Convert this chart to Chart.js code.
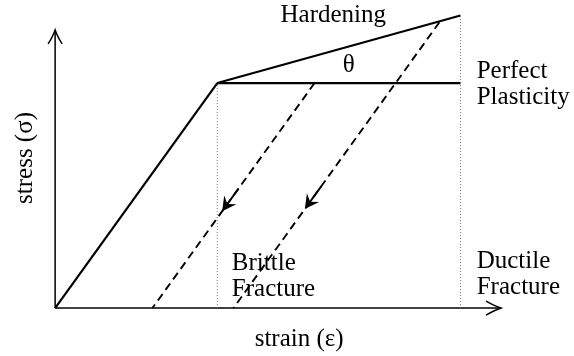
<!DOCTYPE html>
<html>
<head>
<meta charset="utf-8">
<script src="https://cdn.jsdelivr.net/npm/chart.js@4.4.1/dist/chart.umd.min.js"></script>
<style>
  html, body { margin: 0; padding: 0; background: #fff; }
  #wrap { width: 574px; height: 356px; }
</style>
</head>
<body>
<div id="wrap"><canvas id="stress-strain"></canvas></div>
<script>
// strain in units of the yield strain, stress in units of the yield stress
const elasticCurve = [[0, 0], [1, 1]];
const hardeningCurve = [[1, 1], [2.5, 1.3]];
const plasticCurve = [[1, 1], [2.5, 1]];
const brittleUnload = [[1.6, 1], [0.6, 0]];
const ductileUnload = [[2.37, 1.27], [1.1, 0]];
const brittleLimit = [[1, 0], [1, 1]];
const ductileLimit = [[2.5, 0], [2.5, 1.3]];
const strainAxis = [[0, 0], [2.75, 0]];
const stressAxis = [[0, 0], [0, 1.236]];
const unloadArrowTips = [[1.03, 0.43], [1.54, 0.44]];

const xLabel = 'strain (ε)';
const yLabel = 'stress (σ)';
const hardeningLabel = 'Hardening';
const angleLabel = 'θ';
const plasticLabel = ['Perfect', 'Plasticity'];
const brittleLabel = ['Brittle', 'Fracture'];
const ductileLabel = ['Ductile', 'Fracture'];

const toXY = (pts) => pts.map(([x, y]) => ({ x: x, y: y }));

function lineSet(pts, width, dash, color) {
  return {
    data: toXY(pts),
    showLine: true,
    borderColor: color || '#000',
    borderWidth: width,
    borderDash: dash || [],
    pointRadius: 0,
    fill: false,
  };
}

const FONT = '25px "Liberation Serif", "Times New Roman", serif';

// arrow heads and text labels
const annotatePlugin = {
  id: 'annotate',
  afterDatasetsDraw(chart) {
    const ctx = chart.ctx;
    const xs = chart.scales.x;
    const ys = chart.scales.y;
    const px = (x) => xs.getPixelForValue(x);
    const py = (y) => ys.getPixelForValue(y);

    ctx.save();
    ctx.fillStyle = '#000';
    ctx.strokeStyle = '#000';

    // filled stealth arrows on the unloading lines
    [brittleUnload, ductileUnload].forEach((line, i) => {
      const dx = px(line[1][0]) - px(line[0][0]);
      const dy = py(line[1][1]) - py(line[0][1]);
      const len = Math.hypot(dx, dy);
      const ux = dx / len, uy = dy / len;
      const nx = -uy, ny = ux;
      const tx = px(unloadArrowTips[i][0]);
      const ty = py(unloadArrowTips[i][1]);
      const L = 14, W = 7.5, notch = 9;
      ctx.beginPath();
      ctx.moveTo(tx, ty);
      ctx.lineTo(tx - L * ux + W * nx, ty - L * uy + W * ny);
      ctx.lineTo(tx - notch * ux, ty - notch * uy);
      ctx.lineTo(tx - L * ux - W * nx, ty - L * uy - W * ny);
      ctx.closePath();
      ctx.fill();
      // solid shaft behind the head
      ctx.lineWidth = 1.9;
      ctx.beginPath();
      ctx.moveTo(tx - 5 * ux, ty - 5 * uy);
      ctx.lineTo(tx - 28 * ux, ty - 28 * uy);
      ctx.stroke();
    });

    // open arrow heads on the axes
    ctx.lineWidth = 1.5;
    const xt = [px(strainAxis[1][0]), py(strainAxis[1][1])];
    ctx.beginPath();
    ctx.moveTo(xt[0] - 15, xt[1] - 7);
    ctx.quadraticCurveTo(xt[0] - 6, xt[1] - 2, xt[0], xt[1]);
    ctx.quadraticCurveTo(xt[0] - 6, xt[1] + 2, xt[0] - 15, xt[1] + 7);
    ctx.stroke();
    const yt = [px(stressAxis[1][0]), py(stressAxis[1][1])];
    ctx.beginPath();
    ctx.moveTo(yt[0] - 7, yt[1] + 14);
    ctx.quadraticCurveTo(yt[0] - 2, yt[1] + 6, yt[0], yt[1]);
    ctx.quadraticCurveTo(yt[0] + 2, yt[1] + 6, yt[0] + 7, yt[1] + 14);
    ctx.stroke();

    // labels
    ctx.font = FONT;
    ctx.textAlign = 'left';
    ctx.textBaseline = 'alphabetic';
    ctx.fillText(hardeningLabel, px(1.39), py(1.27));
    ctx.fillText(plasticLabel[0], px(2.6), py(1.022));
    ctx.fillText(plasticLabel[1], px(2.6), py(0.907));
    ctx.fillText(brittleLabel[0], px(1.09), py(0.169));
    ctx.fillText(brittleLabel[1], px(1.09), py(0.053));
    ctx.fillText(ductileLabel[0], px(2.6), py(0.178));
    ctx.fillText(ductileLabel[1], px(2.6), py(0.062));

    ctx.textAlign = 'center';
    ctx.textBaseline = 'middle';
    ctx.fillText(angleLabel, px(1.81), py(1.08));

    ctx.textBaseline = 'alphabetic';
    ctx.fillText(xLabel, px(1.505), py(-0.169));

    ctx.translate(px(-0.143), py(0.667));
    ctx.rotate(-Math.PI / 2);
    ctx.fillText(yLabel, 0, 0);
    ctx.restore();
  },
};

const ctx = document.getElementById('stress-strain').getContext('2d');

const chart = new Chart(ctx, {
  type: 'scatter',
  data: {
    datasets: [
      lineSet(brittleLimit, 1, [1, 2], '#777'),
      lineSet(ductileLimit, 1, [1, 2], '#777'),
      lineSet(strainAxis, 1.5),
      lineSet(stressAxis, 1.5),
      lineSet(elasticCurve, 2.2),
      lineSet(hardeningCurve, 2.2),
      lineSet(plasticCurve, 2.2),
      lineSet(brittleUnload, 1.9, [8, 5]),
      lineSet(ductileUnload, 1.9, [8, 5]),
    ],
  },
  options: {
    responsive: true,
    maintainAspectRatio: false,
    animation: false,
    devicePixelRatio: 1,
    layout: { padding: 0, autoPadding: false },
    plugins: {
      legend: { display: false },
      tooltip: { enabled: false },
    },
    scales: {
      x: { type: 'linear', min: -0.34, max: 3.2, display: false },
      y: { type: 'linear', min: -0.213, max: 1.369, display: false },
    },
  },
  plugins: [annotatePlugin],
});
</script>
</body>
</html>
